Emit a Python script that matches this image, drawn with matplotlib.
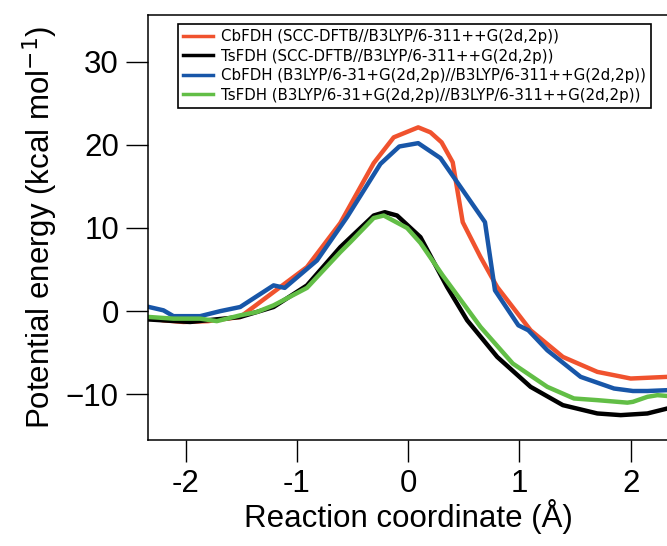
import matplotlib
matplotlib.use("Agg")
import matplotlib.pyplot as plt

# CbFDH (SCC-DFTB//B3LYP/6-311++G(2d,2p))
x_cb_dftb = [-2.33, -2.2, -2.02, -1.8, -1.51, -1.21, -0.91, -0.61, -0.31, -0.13,
             0.09, 0.2, 0.3, 0.4, 0.49, 0.65, 0.8, 1.1, 1.39, 1.7, 2.0, 2.33]
y_cb_dftb = [-0.8, -1.1, -1.3, -1.2, -0.7, 2.3, 5.3, 10.6, 17.8, 20.9,
             22.1, 21.5, 20.3, 17.9, 10.7, 6.5, 2.9, -2.3, -5.5, -7.3, -8.1, -7.9]

# TsFDH (SCC-DFTB//B3LYP/6-311++G(2d,2p))
x_ts_dftb = [-2.33, -1.96, -1.51, -1.21, -0.91, -0.61, -0.31, -0.21, -0.1, 0.11,
             0.35, 0.53, 0.8, 1.1, 1.39, 1.7, 1.91, 2.15, 2.33]
y_ts_dftb = [-1.0, -1.3, -0.7, 0.5, 3.1, 7.7, 11.5, 11.9, 11.5, 8.9,
             2.9, -1.1, -5.5, -9.1, -11.3, -12.3, -12.5, -12.3, -11.7]

# CbFDH (B3LYP/6-31+G(2d,2p)//B3LYP/6-311++G(2d,2p))
x_cb_b3 = [-2.33, -2.2, -2.11, -1.87, -1.69, -1.51, -1.21, -1.11, -0.82, -0.55,
           -0.25, -0.08, 0.09, 0.29, 0.69, 0.78, 0.99, 1.08, 1.25, 1.55, 1.85,
           2.02, 2.15, 2.33]
y_cb_b3 = [0.5, 0.1, -0.6, -0.6, 0.0, 0.5, 3.1, 2.8, 6.1, 11.3,
           17.7, 19.8, 20.2, 18.4, 10.7, 2.5, -1.7, -2.3, -4.7, -7.9, -9.3,
           -9.6, -9.6, -9.5]

# TsFDH (B3LYP/6-31+G(2d,2p)//B3LYP/6-311++G(2d,2p))
x_ts_b3 = [-2.33, -2.11, -1.87, -1.72, -1.51, -1.36, -1.21, -0.91, -0.61, -0.52,
           -0.31, -0.22, -0.01, 0.11, 0.31, 0.65, 0.94, 1.25, 1.49, 1.7, 1.97,
           2.02, 2.15, 2.24, 2.33]
y_ts_b3 = [-0.7, -0.9, -0.9, -1.2, -0.5, -0.1, 0.7, 2.8, 7.1, 8.3,
           11.2, 11.5, 10.0, 8.2, 4.3, -1.9, -6.3, -9.1, -10.5, -10.7, -11.0,
           -10.9, -10.3, -10.1, -10.2]

labels = ["CbFDH (SCC-DFTB//B3LYP/6-311++G(2d,2p))",
          "TsFDH (SCC-DFTB//B3LYP/6-311++G(2d,2p))",
          "CbFDH (B3LYP/6-31+G(2d,2p)//B3LYP/6-311++G(2d,2p))",
          "TsFDH (B3LYP/6-31+G(2d,2p)//B3LYP/6-311++G(2d,2p))"]
colors = ["#f0522e", "#000000", "#1856a8", "#62be46"]

plt.rcParams['font.family'] = ['Liberation Sans', 'DejaVu Sans']

fig = plt.figure(figsize=(6.67, 5.46), dpi=100)
ax = fig.add_axes([0.222, 0.194, 0.78, 0.7784])

ax.plot(x_cb_dftb, y_cb_dftb, color=colors[0], lw=3.2, label=labels[0])
ax.plot(x_ts_dftb, y_ts_dftb, color=colors[1], lw=3.2, label=labels[1])
ax.plot(x_cb_b3, y_cb_b3, color=colors[2], lw=3.2, label=labels[2])
ax.plot(x_ts_b3, y_ts_b3, color=colors[3], lw=3.2, label=labels[3])

ax.set_xlim(-2.338, 2.338)
ax.set_ylim(-15.5, 35.6)
ax.set_xticks([-2, -1, 0, 1, 2])
ax.set_yticks([-10, 0, 10, 20, 30])
ax.set_xticklabels(['-2', '-1', '0', '1', '2'])
ax.set_yticklabels(['\u221210', '0', '10', '20', '30'])
ax.tick_params(direction='out', length=16, width=1, labelsize=22.5, pad=5)
for s in ax.spines.values():
    s.set_linewidth(1.1)
ax.spines['right'].set_visible(False)

ax.set_xlabel('Reaction coordinate (\u00c5)', fontsize=22.5, labelpad=0)
ax.set_ylabel('Potential energy (kcal mol$^{-1}$)', fontsize=22.5, labelpad=4)

leg = ax.legend(loc='upper left', bbox_to_anchor=(0.058, 0.979), borderaxespad=0,
                fancybox=False, framealpha=1, edgecolor='black',
                prop={'family': 'DejaVu Sans', 'size': 10.8},
                handlelength=2.0, handletextpad=0.5, labelspacing=0.3,
                borderpad=0.35)
leg.get_frame().set_linewidth(1.2)
for line in leg.get_lines():
    line.set_linewidth(2.5)

fig.savefig('out.png', dpi=100)
